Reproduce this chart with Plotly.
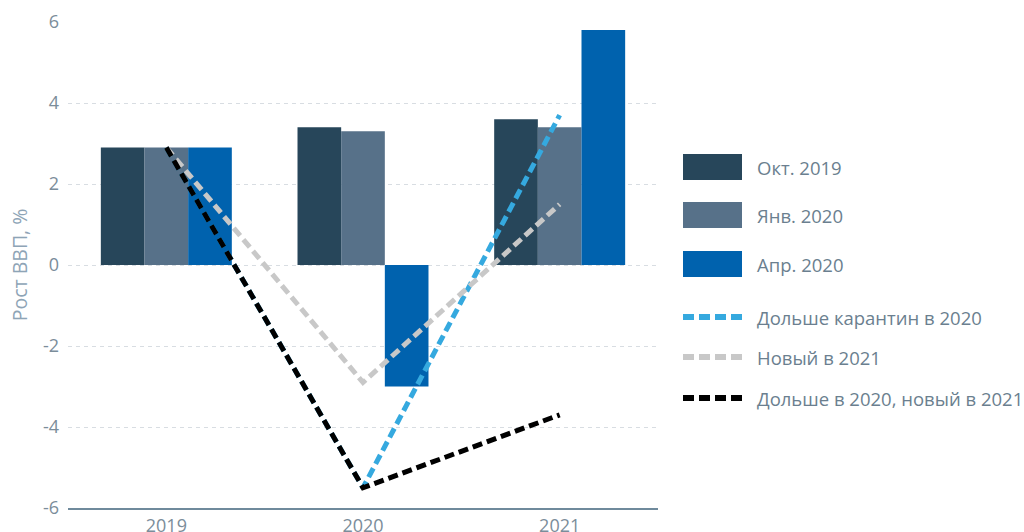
import plotly.graph_objects as go

# Годы прогноза
years = ["2019", "2020", "2021"]

# Прогнозы роста мирового ВВП, %
oct_2019 = [2.9, 3.4, 3.6]
jan_2020 = [2.9, 3.3, 3.4]
apr_2020 = [2.9, -3.0, 5.8]

# Альтернативные сценарии
longer_2020 = [2.9, -5.5, 3.7]
new_2021 = [2.9, -2.9, 1.5]
longer_and_new = [2.9, -5.5, -3.7]

bar_names = ["Окт. 2019", "Янв. 2020", "Апр. 2020"]
line_names = ["Дольше карантин в 2020", "Новый в 2021", "Дольше в 2020, новый в 2021"]

y_ticks = [-6, -4, -2, 0, 2, 4, 6]

bar_colors = ["#27465a", "#577189", "#0062ae"]
line_colors = ["#35a9df", "#c8c8c8", "#000000"]

FONT = "Open Sans"
TEXT_COLOR = "#6b7f8f"

fig = go.Figure()

for name, vals, col in zip(bar_names, [oct_2019, jan_2020, apr_2020], bar_colors):
    fig.add_trace(go.Bar(x=years, y=vals, name=name, marker=dict(color=col, line=dict(width=0)),
                         showlegend=False))

for name, vals, col in zip(line_names, [longer_2020, new_2021, longer_and_new], line_colors):
    fig.add_trace(go.Scatter(x=years, y=vals, name=name, mode="lines",
                             line=dict(color=col, width=5, dash="10px,5px"),
                             showlegend=False))

# Plot area geometry in pixels (used for the hand-built legend)
L, R, T, B = 68, 366, 22, 24
W, H = 1024, 532
pw, ph = W - L - R, H - T - B


def px(x):
    return (x - L) / pw


def py(y):
    return (H - B - y) / ph


shapes = []
annotations = []

# Bar swatches
for i, (name, col) in enumerate(zip(bar_names, bar_colors)):
    yc = [167, 215, 264][i]
    shapes.append(dict(type="rect", xref="paper", yref="paper",
                       x0=px(683), x1=px(742), y0=py(yc + 13), y1=py(yc - 13),
                       fillcolor=col, line=dict(width=0)))
    annotations.append(dict(xref="paper", yref="paper", x=px(755), y=py(yc), text=name,
                            showarrow=False, xanchor="left", yanchor="middle",
                            font=dict(family=FONT, size=18.5, color=TEXT_COLOR)))

# Line swatches
for i, (name, col) in enumerate(zip(line_names, line_colors)):
    yc = [317, 357, 398][i]
    shapes.append(dict(type="line", xref="paper", yref="paper",
                       x0=px(683), x1=px(742), y0=py(yc), y1=py(yc),
                       line=dict(color=col, width=6, dash="11px,5px")))
    annotations.append(dict(xref="paper", yref="paper", x=px(755), y=py(yc), text=name,
                            showarrow=False, xanchor="left", yanchor="middle",
                            font=dict(family=FONT, size=18.5, color=TEXT_COLOR)))

fig.update_layout(
    width=W, height=H,
    margin=dict(l=L, r=R, t=T, b=B, autoexpand=False),
    paper_bgcolor="white", plot_bgcolor="white",
    barmode="group", bargap=0.334, bargroupgap=0,
    font=dict(family=FONT, color=TEXT_COLOR),
    shapes=shapes, annotations=annotations,
    xaxis=dict(
        type="category", range=[-0.5, 2.5],
        showgrid=False, showline=True, linecolor="#6f8a9c", linewidth=2,
        ticks="", tickfont=dict(family=FONT, size=18, color="#7b8d9a"),
        fixedrange=True,
    ),
    yaxis=dict(
        range=[-6, 6], tickvals=y_ticks, ticktext=[str(v) for v in y_ticks],
        showgrid=True, gridcolor="#d8dde2", gridwidth=1, griddash="4px,4px",
        zeroline=False, showline=False, ticks="",
        tickfont=dict(family=FONT, size=18, color="#7b8d9a"),
        ticklabelstandoff=8,
        title=dict(text="Рост ВВП, %", font=dict(family=FONT, size=19.5, color="#8ea4b6"),
                   standoff=10),
    ),
)

fig.write_html("out.html")
